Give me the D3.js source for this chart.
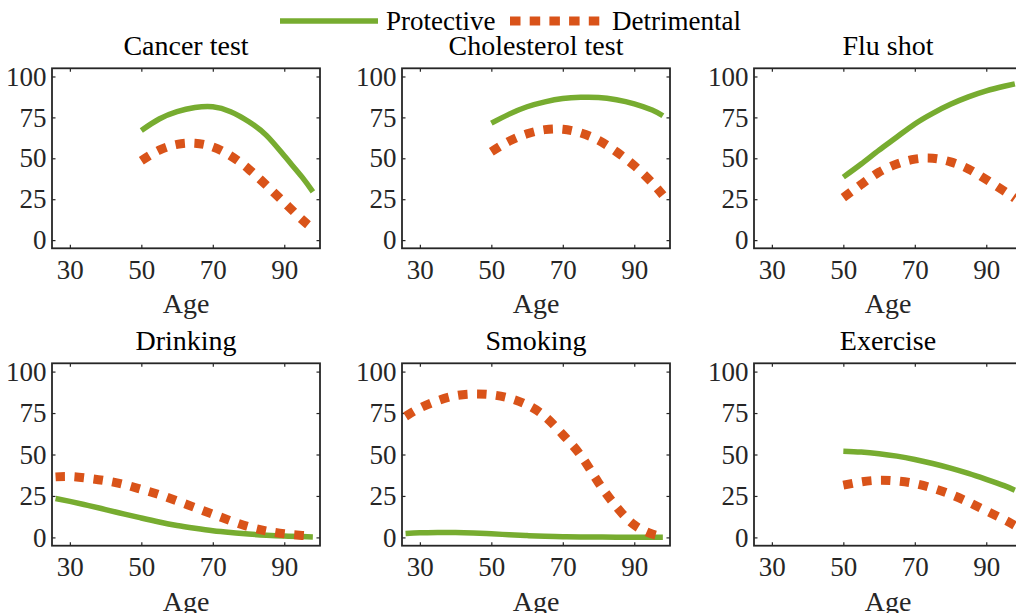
<!DOCTYPE html>
<html><head><meta charset="utf-8">
<script src="https://cdn.jsdelivr.net/npm/d3@7/dist/d3.min.js"></script>
<style>
body{margin:0;background:#fff}
svg{display:block}
svg text{font-family:"Liberation Serif","Times New Roman",Times,Tinos,"DejaVu Serif","Noto Serif",serif !important}
</style>
</head><body><svg id="c" width="1016" height="613"></svg>
<script>
// ---- data ----
const panelTitles = ["Cancer test","Cholesterol test","Flu shot","Drinking","Smoking","Exercise"];
const seriesNames = ["Protective","Detrimental"];
const xTicks = [30,50,70,90];
const yTicks = [0,25,50,75,100];
const agesLate = [50,55,60,65,70,75,80,85,90,95,98];
const agesFull = [26,30,35,40,45,50,55,60,65,70,75,80,85,90,95,98];

const cancerProtective  = [67,74,78.5,81,81.5,78.5,72.5,64,51.5,38.5,29.5];
const cancerDetrimental = [48.5,55,58.5,59.2,57,51.5,43.5,33.5,23,12.5,7];
const cholProtective    = [71.5,77,81.5,84.5,86.5,87.3,87.2,85.8,83.3,79.5,76];
const cholDetrimental   = [54,60.5,65,67.5,67.8,65.5,61,54,45.5,35,27.5];
const fluProtective     = [38.5,46.5,55,63,71,77.5,83,87.5,91.2,94,95.5];
const fluDetrimental    = [26,34,41.5,46.5,49.5,50,47.8,43.5,37,30,25.5];
const drinkProtective   = [23.5,21.7,19.3,16.8,14.2,11.7,9.3,7.2,5.5,4,2.9,2,1.3,0.8,0.5,0.3];
const drinkDetrimental  = [36.5,36.7,35.7,34.2,32,29,25.8,22,18,14,10,6.5,3.9,2.2,1.2,0.8];
const smokeProtective   = [2.3,2.8,3,3,2.7,2.2,1.6,1.1,0.7,0.45,0.3,0.2,0.15,0.1,0.1,0.1];
const smokeDetrimental  = [73,78,82.5,85.5,86.5,86,84,80,73,62,49.5,33,18.5,7.5,2,0.5];
const exerProtective    = [52,51.5,50.5,49,47,44.6,41.8,38.6,35,31.2,28.5];
const exerDetrimental   = [31.5,33.5,34.5,34,32.5,29.7,26,21.3,16,10.7,7.2];

const panels = [
  {title: panelTitles[0], ages: agesLate, prot: cancerProtective, det: cancerDetrimental},
  {title: panelTitles[1], ages: agesLate, prot: cholProtective,   det: cholDetrimental},
  {title: panelTitles[2], ages: agesLate, prot: fluProtective,    det: fluDetrimental},
  {title: panelTitles[3], ages: agesFull, prot: drinkProtective,  det: drinkDetrimental},
  {title: panelTitles[4], ages: agesFull, prot: smokeProtective,  det: smokeDetrimental},
  {title: panelTitles[5], ages: agesLate, prot: exerProtective,   det: exerDetrimental}
];

// ---- layout & style ----
const GREEN = "#77AC30", ORANGE = "#D95319", AX = "#262626";
const FONT = '"Liberation Serif","Times New Roman",Times,Tinos,"DejaVu Serif","Noto Serif",serif';
const colLefts = [52, 402, 754];
const rowTops = [68.3, 363.3];
const rowH = [180, 182.4];
const W = 268;
const FS = 27;

const svg = d3.select("#c");

panels.forEach((p, i) => {
  const r = Math.floor(i/3), c = i%3;
  const H = rowH[r];
  const g = svg.append("g").attr("transform", `translate(${colLefts[c]},${rowTops[r]})`);
  const x = d3.scaleLinear().domain([25,100]).range([0,W]);
  const y = d3.scaleLinear().domain([-5,105]).range([H,0]);

  const ax = (sel) => {
    sel.attr("font-family", FONT);
    sel.select(".domain").remove();
    sel.selectAll("line").attr("stroke", AX).attr("stroke-width", 1.2);
    sel.selectAll("text").attr("fill", AX).style("font-size", FS+"px");
  };

  g.append("g").attr("transform",`translate(0,${H})`)
    .call(d3.axisBottom(x).tickValues(xTicks).tickSizeInner(-3.5).tickSizeOuter(0).tickPadding(11.5))
    .call(ax);
  g.append("g")
    .call(d3.axisTop(x).tickValues(xTicks).tickSizeInner(-3.5).tickSizeOuter(0).tickFormat(""))
    .call(ax);
  g.append("g")
    .call(d3.axisLeft(y).tickValues(yTicks).tickSizeInner(-3.5).tickSizeOuter(0).tickPadding(5.5))
    .call(ax);
  g.append("g").attr("transform",`translate(${W},0)`)
    .call(d3.axisRight(y).tickValues(yTicks).tickSizeInner(-3.5).tickSizeOuter(0).tickFormat(""))
    .call(ax);

  const line = d3.line().curve(d3.curveNatural)
    .x(d => x(d[0])).y(d => y(d[1]));
  const protPts = p.ages.map((a,k) => [a, p.prot[k]]);
  const detPts = p.ages.map((a,k) => [a, p.det[k]]);

  g.append("path").attr("d", line(protPts)).attr("fill","none")
    .attr("stroke", GREEN).attr("stroke-width", 5.5);
  g.append("path").attr("d", line(detPts)).attr("fill","none")
    .attr("stroke", ORANGE).attr("stroke-width", 9).attr("stroke-dasharray","9.5,9.5");

  g.append("rect").attr("x",0).attr("y",0).attr("width",W).attr("height",H)
    .attr("fill","none").attr("stroke",AX).attr("stroke-width",1.8);

  g.append("text").attr("x", W/2).attr("y", -13.5).attr("text-anchor","middle")
    .attr("font-family", FONT).style("font-size", "28px").attr("fill","#000").text(p.title);
  g.append("text").attr("x", W/2).attr("y", H+65).attr("text-anchor","middle")
    .attr("font-family", FONT).style("font-size", "28px").attr("fill",AX).text("Age");
});

// ---- legend ----
const lg = svg.append("g").attr("font-family", FONT);
lg.append("line").attr("x1",280).attr("x2",378).attr("y1",21).attr("y2",21)
  .attr("stroke",GREEN).attr("stroke-width",5.5);
lg.append("text").attr("x",386).attr("y",29.5).style("font-size","27px").attr("fill","#000").text(seriesNames[0]);
lg.append("line").attr("x1",510).attr("x2",604).attr("y1",21).attr("y2",21)
  .attr("stroke",ORANGE).attr("stroke-width",9).attr("stroke-dasharray","10.5,9.2");
lg.append("text").attr("x",612).attr("y",29.5).style("font-size","27px").attr("fill","#000").text(seriesNames[1]);
</script>
</body></html>
